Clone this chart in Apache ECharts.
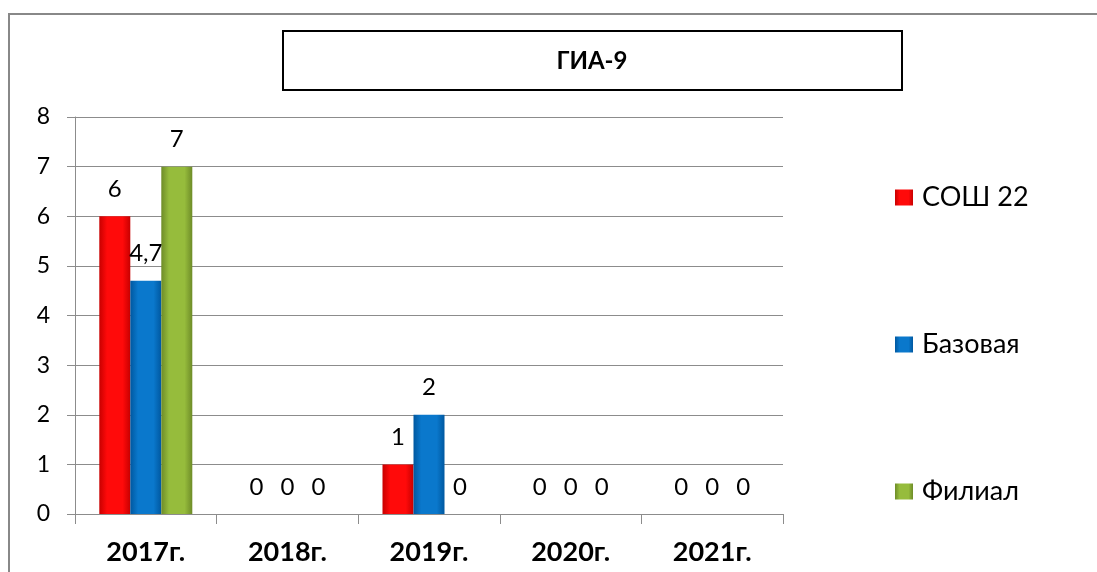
<!DOCTYPE html>
<html><head><meta charset="utf-8">
<script src="https://cdn.jsdelivr.net/npm/echarts@6/dist/echarts.min.js"></script>
<style>html,body{margin:0;padding:0;background:#fff}#c{width:1097px;height:572px}</style>
</head><body><div id="c"></div>
<script>
var categories = ['2017г.', '2018г.', '2019г.', '2020г.', '2021г.'];
var seriesNames = ['СОШ 22', 'Базовая', 'Филиал'];
var sosh22 = [6, 0, 1, 0, 0];
var bazovaya = [4.7, 0, 2, 0, 0];
var filial = [7, 0, 0, 0, 0];
var yTicks = [0, 1, 2, 3, 4, 5, 6, 7, 8];
var titleText = 'ГИА-9';

var FONT = 'Lato, "Open Sans", sans-serif';
function grad(edge, mid) {
  return new echarts.graphic.LinearGradient(0, 0, 1, 0, [
    {offset: 0, color: edge}, {offset: 0.25, color: mid},
    {offset: 0.75, color: mid}, {offset: 1, color: edge}
  ]);
}
var colors = [grad('#c80000', '#ff0a0a'), grad('#0058a0', '#0a78cc'), grad('#6e8c28', '#96bc3c')];
var datas = [sosh22, bazovaya, filial];

var chart = echarts.init(document.getElementById('c'));
chart.setOption({
  animation: false,
  textStyle: {fontFamily: FONT},
  graphic: [
    {type: 'rect', shape: {x: 9, y: 14, width: 1100, height: 570}, style: {fill: 'none', stroke: '#888', lineWidth: 2}, silent: true},
    {type: 'rect', shape: {x: 283, y: 31, width: 619, height: 59}, style: {fill: '#fff', stroke: '#000', lineWidth: 2}, silent: true},
    {type: 'text', x: 592, y: 61, style: {text: titleText, font: 'bold 24px ' + FONT, fill: '#000', align: 'center', verticalAlign: 'middle'}}
  ],
  grid: {left: 75, right: 314, top: 117, bottom: 58, containLabel: false},
  legend: {
    orient: 'vertical', left: 890, top: 179, itemGap: 120,
    itemWidth: 18, itemHeight: 16, icon: 'rect',
    textStyle: {fontSize: 27, color: '#000', fontFamily: FONT, padding: [0, 0, 0, 4]},
    data: seriesNames
  },
  xAxis: {
    type: 'category', data: categories,
    axisLine: {lineStyle: {color: '#8c8c8c', width: 1}},
    axisTick: {show: true, length: 10, lineStyle: {color: '#8c8c8c'}},
    axisLabel: {fontSize: 27, fontWeight: 'bold', color: '#000', margin: 25, fontFamily: FONT}
  },
  yAxis: {
    type: 'value', min: yTicks[0], max: yTicks[yTicks.length - 1], interval: 1,
    axisLine: {show: true, lineStyle: {color: '#8c8c8c', width: 1}},
    axisTick: {show: true, length: 8, lineStyle: {color: '#8c8c8c'}},
    axisLabel: {fontSize: 23, color: '#000', margin: 25, fontFamily: FONT},
    splitLine: {lineStyle: {color: '#8c8c8c', width: 1}}
  },
  series: seriesNames.map(function (n, i) {
    return {
      name: n, type: 'bar', data: datas[i], barWidth: 31, barGap: '0%',
      itemStyle: {color: colors[i]},
      label: {
        show: true, position: 'top', distance: 15, fontSize: 24, color: '#000', fontFamily: FONT,
        formatter: function (p) { return String(p.value).replace('.', ','); }
      }
    };
  })
});
</script></body></html>
